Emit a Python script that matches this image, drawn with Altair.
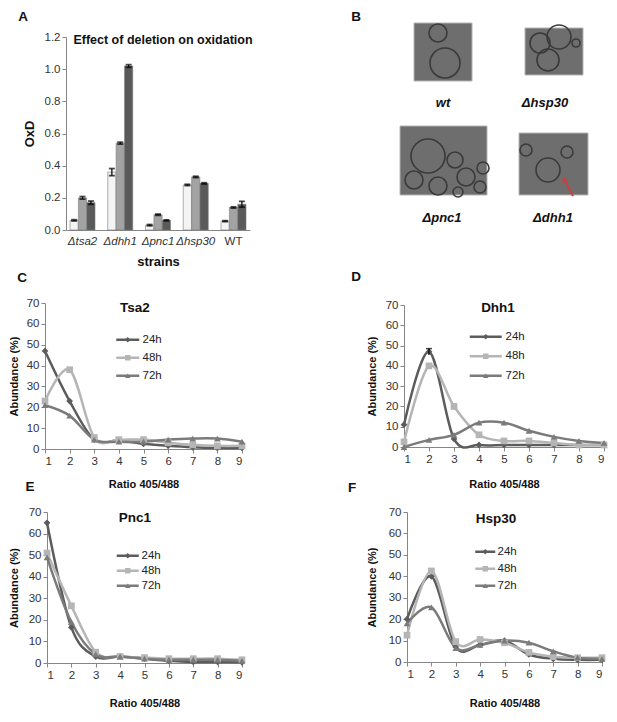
import altair as alt
import pandas as pd

W, H = 601, 700
FONT = "Liberation Sans"

# ---------------- Panel A data ----------------
strains = ["Δtsa2", "Δdhh1", "Δpnc1", "Δhsp30", "WT"]
bar_series = ["t1", "t2", "t3"]
oxd_1 = [0.06, 0.36, 0.03, 0.28, 0.055]
oxd_2 = [0.20, 0.54, 0.095, 0.33, 0.14]
oxd_3 = [0.17, 1.02, 0.06, 0.29, 0.16]
err_1 = [0.004, 0.022, 0.004, 0.004, 0.003]
err_2 = [0.008, 0.006, 0.004, 0.004, 0.004]
err_3 = [0.010, 0.008, 0.003, 0.004, 0.018]
oxd_ticks = [0, 0.2, 0.4, 0.6, 0.8, 1.0, 1.2]

# ---------------- Line panels data ----------------
ratios = [1, 2, 3, 4, 5, 6, 7, 8, 9]
times = ["24h", "48h", "72h"]
abund_ticks = [0, 10, 20, 30, 40, 50, 60, 70]
panel_names = ["Tsa2", "Dhh1", "Pnc1", "Hsp30"]

tsa2_24 = [47, 23, 4.5, 4, 2.5, 1.5, 0.8, 0.5, 0.5]
tsa2_48 = [23, 38, 5.5, 4.5, 4.5, 3, 2, 1.5, 1.5]
tsa2_72 = [21, 16, 4.5, 3.5, 3.5, 4.5, 5, 5, 3.5]

dhh1_24 = [11, 47, 4, 1, 1, 1, 1, 1, 1]
dhh1_48 = [2.5, 40, 20, 6, 3, 3, 2, 1, 1]
dhh1_72 = [0, 3.5, 6, 12, 12, 8, 5, 3, 2]
dhh1_24_err = [0, 1.5, 0, 0, 0, 0, 0, 0, 0]

pnc1_24 = [65, 16.5, 3, 3, 2, 1, 0.5, 0.5, 0.3]
pnc1_48 = [51, 26.5, 5, 3, 2.5, 2, 2, 2, 1.5]
pnc1_72 = [49, 19, 4, 3, 2, 1.5, 1.5, 1.5, 1]

hsp30_24 = [20, 40, 7, 8, 10, 3.5, 1.5, 1, 1]
hsp30_48 = [12.5, 42.5, 9.5, 10.5, 9, 4.5, 2.5, 2, 2]
hsp30_72 = [18, 25.5, 6.5, 8, 10, 9, 5, 2, 1.5]

# ---------------- Panel B (micrograph placeholders) ----------------
img_names = ["wt", "Δhsp30", "Δpnc1", "Δdhh1"]
img_x0 = [414, 525, 400, 519]
img_x1 = [472, 583, 487, 588]
img_y0 = [23, 28, 126, 133]
img_y1 = [81, 75, 195, 195]
img_lab_x = [443, 545, 442, 553]
img_lab_y = [103, 103, 218, 218]
cell_x = [438, 445, 540, 559, 548, 576, 428, 455, 466, 483, 480, 414, 438, 458, 548, 567, 526]
cell_y = [33, 63, 43, 37, 60, 43, 156, 160, 177, 168, 187, 180, 186, 192, 170, 152, 150]
cell_r = [9, 15, 10, 12, 11, 4, 17, 8, 9, 6, 6, 9, 9, 5, 12, 6, 6]
letters = ["A", "B", "C", "D", "E", "F"]
letter_x = [23, 356, 22, 356, 30, 352]
letter_y = [17, 17, 278, 277, 487, 488]

pal_bar = ["#f4f4f4", "#a3a3a3", "#5a5a5a"]
pal_time = ["#5c5c5c", "#b5b5b5", "#7b7b7b"]
shapes = ["diamond", "square", "triangle-up"]

# ---------------- Panel A ----------------
rowsA = []
for s, vals, errs in zip(bar_series, [oxd_1, oxd_2, oxd_3], [err_1, err_2, err_3]):
    for st, v, e in zip(strains, vals, errs):
        rowsA.append({"strain": st, "series": s, "oxd": v, "lo": v - e, "hi": v + e})
dfA = pd.DataFrame(rowsA)

xA = alt.X("strain:N", sort=strains,
           scale=alt.Scale(range=[58, 242], paddingInner=0.338, paddingOuter=0.106),
           axis=alt.Axis(orient="bottom", offset=222 - H, title="strains", titleFontSize=13,
                         titlePadding=9, ticks=False, labelPadding=5, labelAngle=0,
                         labelFontStyle={"condition": {"test": "datum.value == 'WT'", "value": "normal"},
                                         "value": "italic"}))
yA_scale = alt.Scale(domain=[0, 1.2], range=[222, 29], nice=False)
yA_axis = alt.Axis(orient="left", offset=-58, values=oxd_ticks, format=".1f", title="OxD",
                   titleFontSize=13, titlePadding=8)
xoA = alt.XOffset("series:N", sort=bar_series, scale=alt.Scale(paddingInner=0.02))

barsA = alt.Chart(dfA).mark_bar(stroke="#7a7a7a", strokeWidth=0.6).encode(
    x=xA, xOffset=xoA,
    y=alt.Y("oxd:Q", scale=yA_scale, axis=yA_axis),
    color=alt.Color("series:N", scale=alt.Scale(domain=bar_series, range=pal_bar), legend=None),
)
errA = alt.Chart(dfA).mark_rule(color="black", strokeWidth=1.2).encode(
    x=xA, xOffset=xoA,
    y=alt.Y("lo:Q", scale=yA_scale, axis=yA_axis), y2="hi:Q")
capHi = alt.Chart(dfA).mark_tick(color="black", thickness=1.8, size=6).encode(
    x=xA, xOffset=xoA, y=alt.Y("hi:Q", scale=yA_scale, axis=yA_axis))
capLo = alt.Chart(dfA).mark_tick(color="black", thickness=1.8, size=6).encode(
    x=xA, xOffset=xoA, y=alt.Y("lo:Q", scale=yA_scale, axis=yA_axis))
titleA = alt.Chart(pd.DataFrame({"t": ["Effect of deletion on oxidation"]})).mark_text(
    font=FONT, fontWeight="bold", fontSize=12.5, color="#111", baseline="middle").encode(
    text="t:N", x=alt.value(155), y=alt.value(32))
panelA = alt.layer(barsA, errA, capHi, capLo, titleA)


# ---------------- Line panels ----------------
def line_panel(name, series, xr, yr, title_xy, leg, xtp, ytp, err=None):
    rows = []
    for t, vals in zip(times, series):
        for r, v in zip(ratios, vals):
            rows.append({"ratio": r, "abund": v, "time": t})
    df = pd.DataFrame(rows)
    xs = alt.Scale(domain=[1, 9], range=xr, nice=False, zero=False)
    ys = alt.Scale(domain=[0, 70], range=yr, nice=False)
    xax = alt.Axis(orient="bottom", offset=yr[0] - H, values=ratios, title="Ratio 405/488",
                   titlePadding=xtp, format="d")
    yax = alt.Axis(orient="left", offset=-xr[0], values=abund_ticks, title="Abundance (%)",
                   titlePadding=ytp)
    X = alt.X("ratio:Q", scale=xs, axis=xax)
    cx, y1, rp, L, lab = leg
    S = 30
    k = L / (S ** 0.5)
    lx = cx - 4
    ly = y1 - 6
    leg_line = alt.Legend(orient="none", legendX=lx, legendY=ly, title=None,
                          symbolType=f"M-{k:.3f},0L{k:.3f},0", symbolSize=S, symbolStrokeWidth=2.5,
                          labelExpr="''", rowPadding=rp, padding=0, labelFontSize=11.5)
    leg_pt = alt.Legend(orient="none", legendX=lx, legendY=ly, title=None,
                        symbolSize=S, symbolStrokeWidth=2.5, labelOffset=lab - 4,
                        rowPadding=rp, padding=0, labelFontSize=11.5)
    lines = alt.Chart(df).mark_line(interpolate="cardinal", strokeWidth=2.5).encode(
        x=X, y=alt.Y("abund:Q", scale=ys, axis=yax),
        color=alt.Color("time:N", scale=alt.Scale(domain=times, range=pal_time), legend=leg_line),
        order=alt.Order("ratio:Q"))
    pts = alt.Chart(df).mark_point(filled=True, size=45, opacity=1).encode(
        x=X, y=alt.Y("abund:Q", scale=ys, axis=yax),
        color=alt.Color("time:N", scale=alt.Scale(domain=times, range=pal_time), legend=leg_pt),
        shape=alt.Shape("time:N", scale=alt.Scale(domain=times, range=shapes), legend=leg_pt))
    layers = [lines, pts]
    if err is not None:
        erows = [{"ratio": r, "lo": v - e, "hi": v + e}
                 for r, v, e in zip(ratios, series[0], err) if e > 0]
        dfe = pd.DataFrame(erows)
        layers.append(alt.Chart(dfe).mark_rule(color="black", strokeWidth=1.2).encode(
            x=X, y=alt.Y("lo:Q", scale=ys, axis=yax), y2="hi:Q"))
        layers.append(alt.Chart(dfe).mark_tick(color="black", thickness=1.5, size=6,
                                               orient="horizontal").encode(
            x=X, y=alt.Y("hi:Q", scale=ys, axis=yax)))
    layers.append(alt.Chart(pd.DataFrame({"t": [name]})).mark_text(
        font=FONT, fontWeight="bold", fontSize=13.5, color="#111", baseline="middle").encode(
        text="t:N", x=alt.value(title_xy[0]), y=alt.value(title_xy[1])))
    return alt.layer(*layers).resolve_scale(color="independent", shape="independent")


panelC = line_panel(panel_names[0], [tsa2_24, tsa2_48, tsa2_72], [37, 234], [441, 295],
                    (127, 300), (118, 332, 5, 23, 13), 12, 7)
panelD = line_panel(panel_names[1], [dhh1_24, dhh1_48, dhh1_72], [396, 596], [439, 297],
                    (490, 300), (476, 329, 6.5, 32, 18), 14, 8, err=dhh1_24_err)
panelE = line_panel(panel_names[2], [pnc1_24, pnc1_48, pnc1_72], [39, 234], [655, 504],
                    (127, 510), (118, 548, 2, 22, 12), 17, 9)
panelF = line_panel(panel_names[3], [hsp30_24, hsp30_48, hsp30_72], [399, 594], [654, 504],
                    (488, 511), (475.5, 544, 4, 20, 10.5), 18, 11)

# ---------------- Panel B + letters ----------------
pxs = alt.Scale(domain=[8, 8 + W], range=[0, W], nice=False, zero=False)
pys = alt.Scale(domain=[8, 8 + H], range=[0, H], nice=False, zero=False)
dfImg = pd.DataFrame({"name": img_names, "x0": img_x0, "x1": img_x1, "y0": img_y0, "y1": img_y1,
                      "lx": img_lab_x, "ly": img_lab_y})
dfCell = pd.DataFrame({"x": cell_x, "y": cell_y, "s": [(2 * r) ** 2 for r in cell_r]})
dfLet = pd.DataFrame({"l": letters, "x": letter_x, "y": letter_y})

imgs = alt.Chart(dfImg).mark_rect(fill="#6e6e6e", stroke="#b4b4b4", strokeWidth=1).encode(
    x=alt.X("x0:Q", scale=pxs, axis=None), x2="x1:Q",
    y=alt.Y("y0:Q", scale=pys, axis=None), y2="y1:Q")
cells = alt.Chart(dfCell).mark_point(shape="circle", filled=False, stroke="#3a3a3a",
                                     strokeWidth=1.6, opacity=1).encode(
    x=alt.X("x:Q", scale=pxs, axis=None), y=alt.Y("y:Q", scale=pys, axis=None),
    size=alt.Size("s:Q", scale=alt.Scale(domain=[0, 2000], range=[0, 2000]), legend=None))
arrow = alt.Chart(pd.DataFrame({"x": [573], "y": [196], "x2": [564], "y2": [179]})).mark_rule(
    color="#c94040", strokeWidth=2).encode(
    x=alt.X("x:Q", scale=pxs, axis=None), y=alt.Y("y:Q", scale=pys, axis=None),
    x2="x2:Q", y2="y2:Q")
arrowhead = alt.Chart(pd.DataFrame({"x": [564], "y": [179]})).mark_point(
    shape="triangle-up", filled=True, color="#c94040", size=40, angle=332, opacity=1).encode(
    x=alt.X("x:Q", scale=pxs, axis=None), y=alt.Y("y:Q", scale=pys, axis=None))
imgLabels = alt.Chart(dfImg).mark_text(font=FONT, fontWeight="bold", fontStyle="italic",
                                       fontSize=13, color="#111", baseline="middle").encode(
    x=alt.X("lx:Q", scale=pxs, axis=None), y=alt.Y("ly:Q", scale=pys, axis=None), text="name:N")
letterText = alt.Chart(dfLet).mark_text(font=FONT, fontWeight="bold", fontSize=13.5,
                                        color="#111", baseline="middle").encode(
    x=alt.X("x:Q", scale=pxs, axis=None), y=alt.Y("y:Q", scale=pys, axis=None), text="l:N")
panelB = alt.layer(imgs, cells, arrow, arrowhead, imgLabels, letterText)

chart = alt.layer(panelA, panelB, panelC, panelD, panelE, panelF).resolve_scale(
    x="independent", y="independent", color="independent", shape="independent",
    size="independent", xOffset="independent"
).properties(
    width=W, height=H, padding=0, autosize=alt.AutoSizeParams(type="none")
).configure(font=FONT).configure_view(stroke=None).configure_axis(
    grid=False, domainColor="#868686", tickColor="#868686", labelColor="#333333",
    labelFontSize=11.5, labelFont=FONT, titleFont=FONT, titleFontWeight="bold",
    titleFontSize=11, titleColor="#111111", tickSize=4
).configure_legend(labelFont=FONT, labelColor="#222222")

chart.save("out.html", embed_options={"renderer": "svg", "actions": False})
